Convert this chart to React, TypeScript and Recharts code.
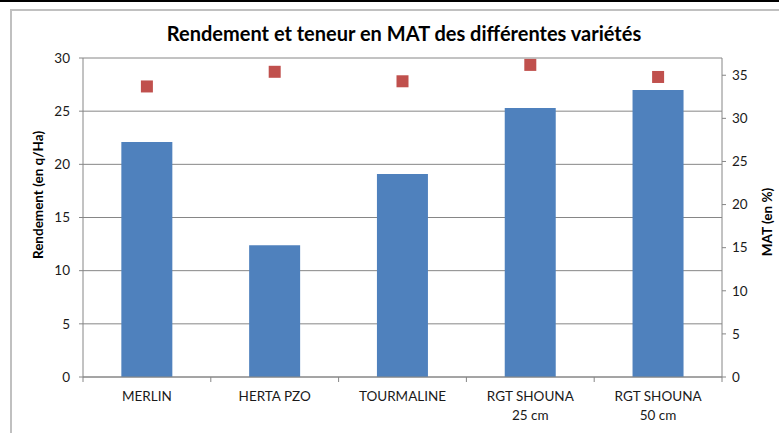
import React from 'react';
import {
  ComposedChart,
  Bar,
  Scatter,
  XAxis,
  YAxis,
  CartesianGrid,
} from 'recharts';

const varietes = ['MERLIN', 'HERTA PZO', 'TOURMALINE', 'RGT SHOUNA\n25 cm', 'RGT SHOUNA\n50 cm'];
const rendement = [22.1, 12.4, 19.1, 25.3, 27.0];
const mat = [33.7, 35.4, 34.3, 36.2, 34.8];
const leftTicks = [0, 5, 10, 15, 20, 25, 30];
const rightTicks = [0, 5, 10, 15, 20, 25, 30, 35];

const W = 779;
const H = 433;
const M = { top: 58, right: 17, bottom: 16, left: 23 };
const LEFT_W = 60;
const RIGHT_W = 40;
const PLOT_W = W - M.left - M.right - LEFT_W - RIGHT_W;
const BAND = PLOT_W / varietes.length;

const GRAY = '#868686';
const FONT = 'Lato, "Open Sans", sans-serif';

const data = varietes.map((name, i) => ({
  name,
  rendement: rendement[i],
  mat: mat[i],
}));

const CategoryTick = (props: any) => {
  const { x, y, payload, index } = props;
  const lines = String(payload.value).split('\n');
  return (
    <g>
      <line x1={x - BAND / 2} x2={x - BAND / 2} y1={y} y2={y + 5} stroke={GRAY} />
      {index === varietes.length - 1 && (
        <line x1={x + BAND / 2} x2={x + BAND / 2} y1={y} y2={y + 5} stroke={GRAY} />
      )}
      <text x={x} y={y} textAnchor="middle" fontSize={13.5} fill="#1a1a1a" fontFamily={FONT}>
        {lines.map((l, i) => (
          <tspan key={i} x={x} dy={i === 0 ? 24 : 19}>
            {l}
          </tspan>
        ))}
      </text>
    </g>
  );
};

const Square = (props: any) => {
  const { cx, cy } = props;
  return <rect x={cx - 6} y={cy - 6} width={12} height={12} fill="#C0504D" />;
};

export default function App() {
  return (
    <div
      style={{
        position: 'absolute',
        left: 0,
        top: 0,
        width: W,
        height: H,
        background: '#fff',
        overflow: 'hidden',
        fontFamily: FONT,
      }}
    >
      <div style={{ position: 'absolute', left: 0, top: 0, width: W, height: 2, background: '#000' }} />
      <div
        style={{
          position: 'absolute',
          left: 10,
          top: 9,
          width: W + 20,
          height: H + 20,
          border: '2px solid #c0c0c0',
        }}
      />
      <div
        style={{
          position: 'absolute',
          left: 0,
          top: 21,
          width: 808,
          textAlign: 'center',
          fontSize: 20,
          fontWeight: 'bold',
          color: '#000',
          lineHeight: '24px',
        }}
      >
        Rendement et teneur en MAT des différentes variétés
      </div>
      <div
        style={{
          position: 'absolute',
          left: 38,
          top: 195,
          transform: 'translate(-50%, -50%) rotate(-90deg)',
          fontSize: 13.5,
          fontWeight: 'bold',
          whiteSpace: 'nowrap',
          color: '#000',
        }}
      >
        Rendement (en q/Ha)
      </div>
      <div
        style={{
          position: 'absolute',
          left: 767,
          top: 222,
          transform: 'translate(-50%, -50%) rotate(-90deg)',
          fontSize: 13.5,
          fontWeight: 'bold',
          whiteSpace: 'nowrap',
          color: '#000',
        }}
      >
        MAT (en %)
      </div>
      <div style={{ position: 'absolute', left: 0, top: 0 }}>
        <ComposedChart width={W} height={H} data={data} margin={M} barCategoryGap="30%">
          <CartesianGrid yAxisId="left" vertical={false} stroke={GRAY} />
          <XAxis
            dataKey="name"
            tick={<CategoryTick />}
            tickLine={false}
            tickSize={0}
            tickMargin={0}
            axisLine={{ stroke: GRAY }}
            interval={0}
            height={40}
          />
          <YAxis
            yAxisId="left"
            domain={[0, 30]}
            ticks={leftTicks}
            width={LEFT_W}
            tickSize={4}
            tickMargin={9}
            axisLine={{ stroke: GRAY }}
            tickLine={{ stroke: GRAY }}
            tick={{ fontSize: 13.5, fill: '#1a1a1a', fontFamily: FONT }}
          />
          <YAxis
            yAxisId="right"
            orientation="right"
            domain={[0, 37]}
            ticks={rightTicks}
            width={RIGHT_W}
            tickSize={4}
            tickMargin={6}
            axisLine={{ stroke: GRAY }}
            tickLine={{ stroke: GRAY }}
            tick={{ fontSize: 13.5, fill: '#1a1a1a', fontFamily: FONT, textAnchor: 'start' }}
          />
          <Bar yAxisId="left" dataKey="rendement" fill="#4F81BD" isAnimationActive={false} />
          <Scatter yAxisId="right" dataKey="mat" shape={<Square />} isAnimationActive={false} />
        </ComposedChart>
      </div>
    </div>
  );
}
